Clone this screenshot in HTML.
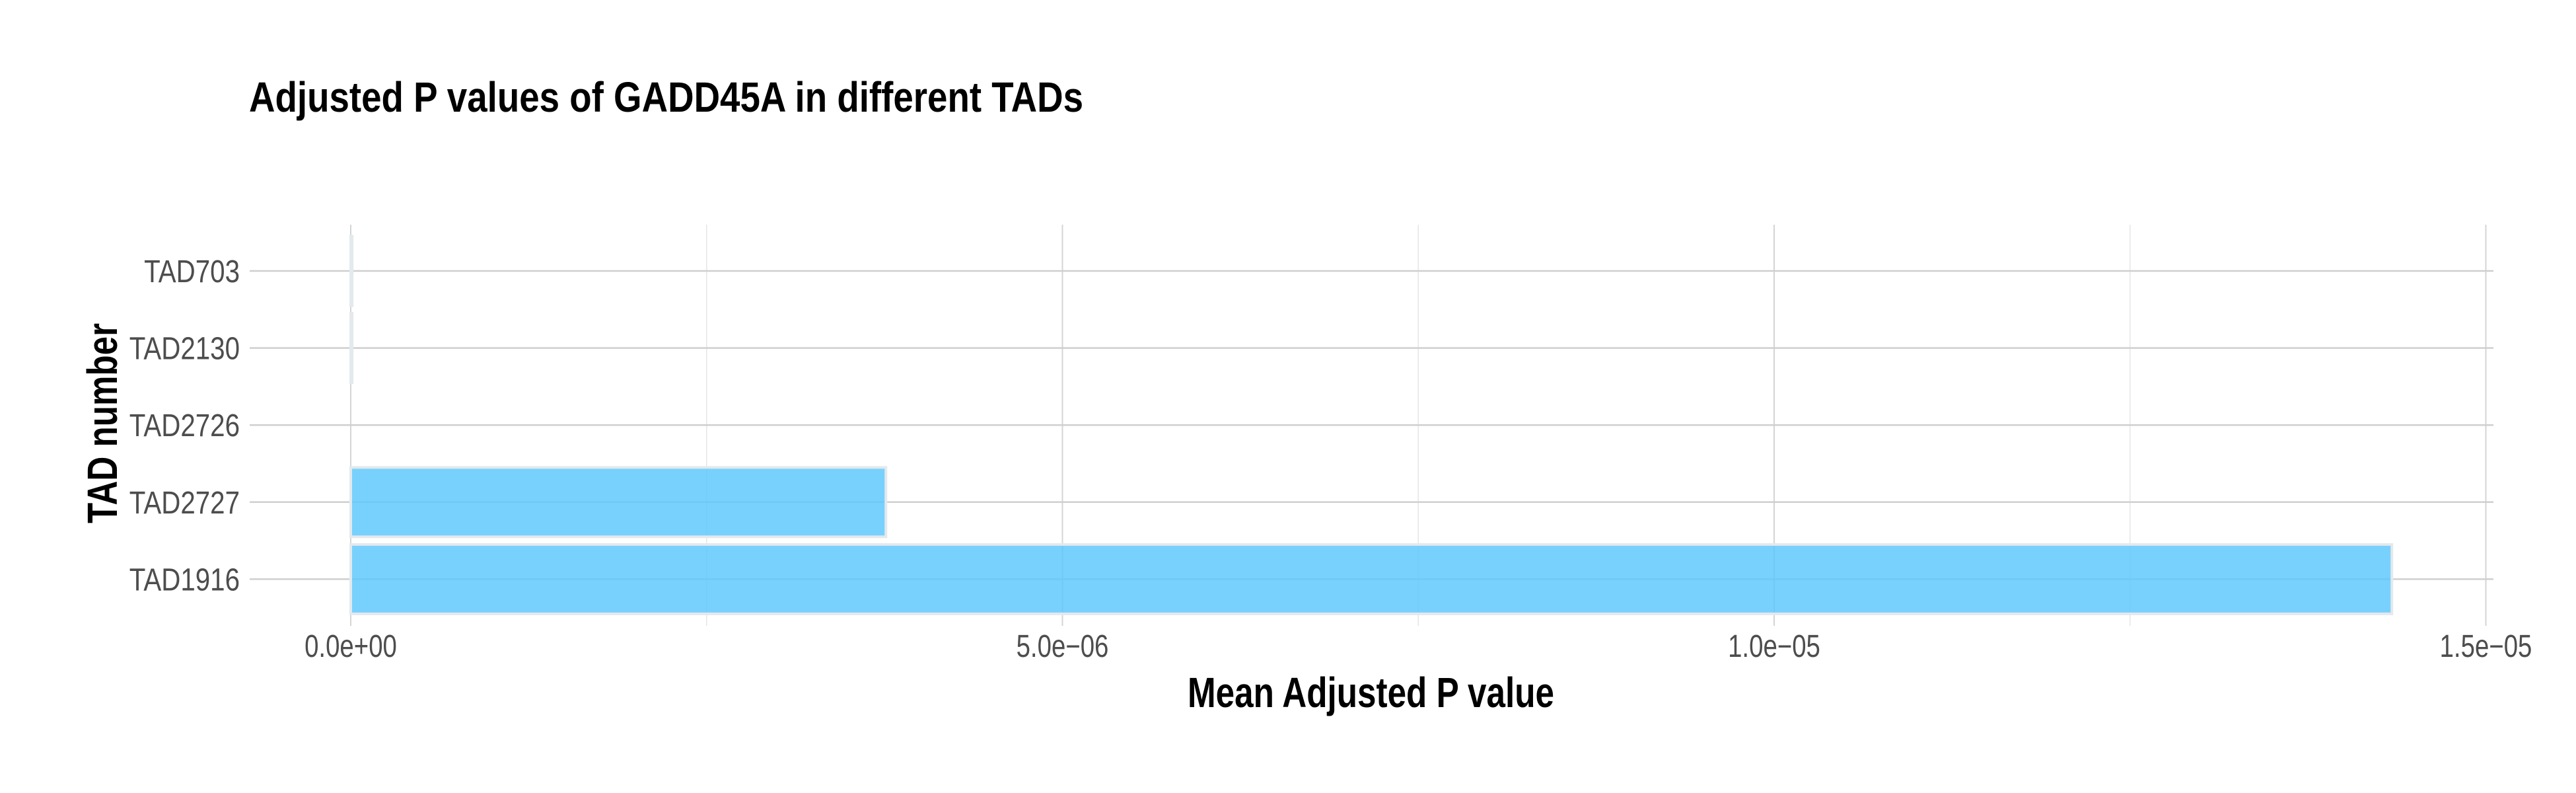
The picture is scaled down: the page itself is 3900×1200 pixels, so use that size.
<!DOCTYPE html>
<html><head><meta charset="utf-8"><style>html,body{margin:0;padding:0;background:#fff}svg{display:block}</style></head>
<body>
<svg id="chart" width="3900" height="1200" xmlns="http://www.w3.org/2000/svg" font-family="'Liberation Sans', Arial, sans-serif">
<rect width="3900" height="1200" fill="#fff"/>
<text x="377" y="169" font-size="64" font-weight="bold" textLength="1263" lengthAdjust="spacingAndGlyphs">Adjusted P values of GADD45A in different TADs</text>
<text x="1798" y="1070" font-size="64" font-weight="bold" textLength="555" lengthAdjust="spacingAndGlyphs">Mean Adjusted P value</text>
<text transform="translate(177,792) rotate(-90)" x="0" y="0" font-size="64" font-weight="bold" textLength="303" lengthAdjust="spacingAndGlyphs">TAD number</text>
<g id="grid"></g>
<g id="bars"></g>
<g id="ylabels"></g>
<g id="xlabels"></g>
</svg>
<script>
const categories = ["TAD703","TAD2130","TAD2726","TAD2727","TAD1916"];
const values = [1e-8, 1e-8, 0, 3.76e-6, 1.434e-5];
const xTicks = [0, 5e-6, 1e-5, 1.5e-5];
const xTickLabels = ["0.0e+00","5.0e\u221206","1.0e\u221205","1.5e\u221205"];
const xMinor = [2.5e-6, 7.5e-6, 1.25e-5];

const NS = "http://www.w3.org/2000/svg";
const px0 = 531, pxPer = 2155 / 1e-5;
const panelL = 378, panelR = 3775, panelT = 340, panelB = 947;
const yTop = 410, yStep = 116.6, bandH = 105;
function xs(v){ return px0 + v * pxPer; }
function ys(i){ return yTop + i * yStep; }
function mk(tag, attrs, parent){ const e = document.createElementNS(NS, tag); for (const k in attrs) e.setAttribute(k, attrs[k]); parent.appendChild(e); return e; }

const grid = document.getElementById('grid');
xMinor.forEach(v => {
  const l = mk('line', {x1: xs(v), x2: xs(v), y1: panelT, y2: panelB, stroke: '#e6e6e6', 'stroke-width': 1.5}, grid);
  
  
});
xTicks.forEach(v => {
  const l = mk('line', {x1: xs(v), x2: xs(v), y1: panelT, y2: panelB, stroke: '#d4d4d4', 'stroke-width': 2}, grid);
  
  
});
categories.forEach((c, i) => {
  const l = mk('line', {x1: panelL, x2: panelR, y1: ys(i), y2: ys(i), stroke: '#cfcfcf', 'stroke-width': 2.5}, grid);
  
  
});

const bars = document.getElementById('bars');
categories.forEach((c, i) => {
  const w = xs(values[i]) - xs(0);
  if (w <= 0) return;
  const small = w < 2;
  const r = mk('rect', {x: xs(0), y: ys(i) - bandH / 2, width: w, height: bandH, fill: 'rgba(90,199,252,0.82)', stroke: small ? '#eef2f4' : '#e3e9ec', 'stroke-width': small ? 2 : 4}, bars);
  
  
});

const yl = document.getElementById('ylabels');
categories.forEach((c, i) => {
  const t = mk('text', {x: 363, y: ys(i) + 17, 'font-size': 48, fill: '#4d4d4d', 'text-anchor': 'end', transform: 'translate(363,0) scale(0.84,1) translate(-363,0)'}, yl);
  t.textContent = c;
  
  
});

const xl = document.getElementById('xlabels');
xTicks.forEach((v, i) => {
  const x = xs(v);
  const t = mk('text', {x: x, y: 994, 'font-size': 48, fill: '#4d4d4d', 'text-anchor': 'middle', transform: 'translate(' + x + ',0) scale(0.8,1) translate(' + (-x) + ',0)'}, xl);
  t.textContent = xTickLabels[i];
  
  
});
</script>
</body></html>
